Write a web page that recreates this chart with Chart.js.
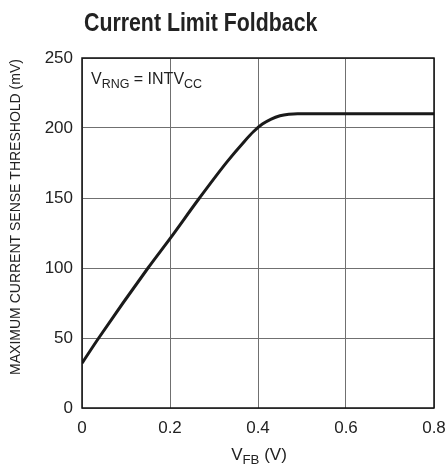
<!DOCTYPE html>
<html lang="en">
<head>
  <meta charset="UTF-8">
  <title>Current Limit Foldback</title>
  <script src="https://cdn.jsdelivr.net/npm/chart.js@4.4.1/dist/chart.umd.min.js"></script>
  <style>
    html, body { margin: 0; padding: 0; background: #fff; }
    .chartdiv { width: 446px; height: 468px; }
  </style>
</head>
<body>

  <div class="chartdiv">
    <canvas id="myChart" width="446" height="468"></canvas>
  </div>

  <script>
    // curve
    const vfb = [0, 0.038, 0.15, 0.2, 0.267, 0.33, 0.37, 0.39, 0.41, 0.43, 0.45, 0.47, 0.49, 0.6, 0.7, 0.8];
    const threshold = [32, 50, 100, 121, 150, 176, 190.8, 197.5, 202.8, 206.4, 208.7, 209.8, 210.2, 210.2, 210.2, 210.2];

    const xTicks = [0, 0.2, 0.4, 0.6, 0.8];
    const yTicks = [0, 50, 100, 150, 200, 250];

    const titleText = 'Current Limit Foldback';
    const yTitle = 'MAXIMUM CURRENT SENSE THRESHOLD (mV)';

    const sans = '"Liberation Sans", Arial, sans-serif';

    // draws text with subscript pieces, still as real text
    function drawSub(ctx, parts, x, y, size, align) {
      let w = 0;
      parts.forEach(p => {
        ctx.font = (p.sub ? size * 0.78 : size) + 'px ' + sans;
        w += ctx.measureText(p.t).width;
      });
      let cx = align === 'center' ? x - w / 2 : x;
      parts.forEach(p => {
        const s = p.sub ? size * 0.78 : size;
        ctx.font = s + 'px ' + sans;
        ctx.fillText(p.t, cx, p.sub ? y + size * 0.25 : y);
        cx += ctx.measureText(p.t).width;
      });
    }

    const decor = {
      id: 'decor',
      afterDraw(chart) {
        const ctx = chart.ctx;
        const a = chart.chartArea;
        ctx.save();

        // frame
        ctx.strokeStyle = '#111';
        ctx.lineWidth = 1.5;
        ctx.strokeRect(a.left, a.top, a.right - a.left, a.bottom - a.top);

        ctx.fillStyle = '#222';
        ctx.textBaseline = 'alphabetic';
        ctx.textAlign = 'left';

        // title, squeezed to look condensed
        ctx.save();
        ctx.translate(84, 31);
        ctx.scale(0.82, 1);
        ctx.font = 'bold 26px ' + sans;
        ctx.fillText(titleText, 0, 0);
        ctx.restore();

        // note inside plot
        drawSub(ctx, [{t: 'V'}, {t: 'RNG', sub: true}, {t: ' = INTV'}, {t: 'CC', sub: true}], 91, 84, 16, 'left');

        // x axis title
        drawSub(ctx, [{t: 'V'}, {t: 'FB', sub: true}, {t: ' (V)'}], 259, 460, 17, 'center');

        // y axis title
        ctx.translate(20, 217);
        ctx.rotate(-Math.PI / 2);
        ctx.textAlign = 'center';
        ctx.font = '14px ' + sans;
        ctx.fillText(yTitle, 0, 0);

        ctx.restore();
      }
    };

    const data = {
      datasets: [{
        data: vfb.map((v, i) => ({ x: v, y: threshold[i] })),
        borderColor: '#1a1a1a',
        borderWidth: 3,
        pointRadius: 0,
        cubicInterpolationMode: 'monotone',
        fill: false
      }]
    };

    const config = {
      type: 'line',
      data,
      options: {
        responsive: false,
        animation: false,
        layout: { padding: { top: 58, right: 0, left: 0, bottom: 0 } },
        plugins: {
          legend: { display: false },
          tooltip: { enabled: false }
        },
        scales: {
          x: {
            type: 'linear',
            min: 0,
            max: 0.8,
            afterFit: s => {
              s.height = 60;
              s.paddingLeft = 0;
              s.paddingRight = 12;
            },
            afterBuildTicks: s => { s.ticks = xTicks.map(v => ({ value: v })); },
            grid: { color: '#707070', lineWidth: 1, drawTicks: false },
            border: { display: false },
            ticks: {
              color: '#222',
              padding: 10,
              font: { family: sans, size: 17 },
              callback: v => String(v)
            }
          },
          y: {
            min: 0,
            max: 250,
            afterFit: s => { s.width = 82; },
            afterBuildTicks: s => { s.ticks = yTicks.map(v => ({ value: v })); },
            grid: { color: '#707070', lineWidth: 1, drawTicks: false },
            border: { display: false },
            ticks: {
              color: '#222',
              padding: 9,
              font: { family: sans, size: 17 }
            }
          }
        }
      },
      plugins: [decor]
    };

    var myChart = new Chart(document.getElementById('myChart'), config);
  </script>

</body>
</html>
